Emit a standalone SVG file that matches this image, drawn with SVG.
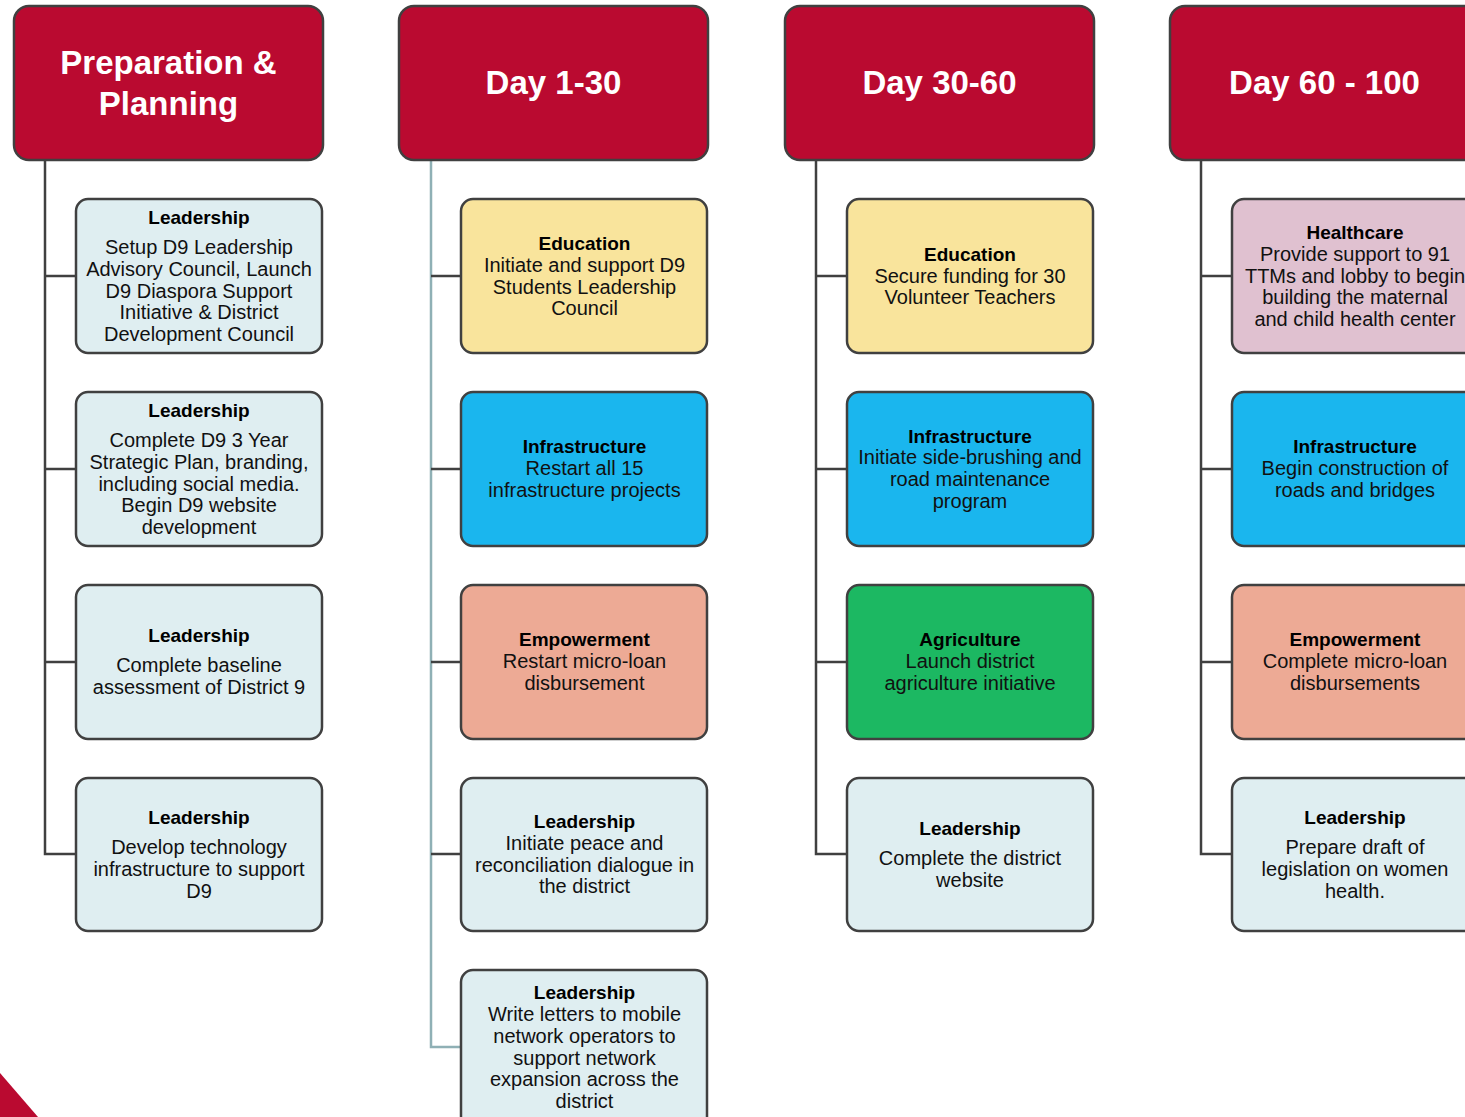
<svg xmlns="http://www.w3.org/2000/svg" width="1465" height="1117" viewBox="0 0 1465 1117">
<style>
.hdr{fill:#BA0A30;stroke:#404040;stroke-width:2.5}
.card{stroke:#404040;stroke-width:2.5}
.lead{fill:#DFEEF1}
.edu{fill:#F9E49C}
.infra{fill:#1AB6EE}
.emp{fill:#EDAA95}
.agr{fill:#1CB862}
.hc{fill:#E0C1D0}
.ht{font-family:"Liberation Sans",Arial,sans-serif;font-weight:bold;font-size:33px;fill:#FFFFFF;text-anchor:middle}
.tt{font-family:"Liberation Sans",Arial,sans-serif;font-weight:bold;font-size:19px;fill:#000;text-anchor:middle}
.bt{font-family:"Liberation Sans",Arial,sans-serif;font-size:20px;fill:#111;text-anchor:middle}
.ln{fill:none;stroke:#404040;stroke-width:2.5}
.ln2{fill:none;stroke:#8FB0B5;stroke-width:2.5}
</style>
<rect width="1465" height="1117" fill="#FFFFFF"/>
<polygon points="0,1073 38,1117 0,1117" fill="#BA0A30"/>
<g id="connectors">
<path class="ln" d="M45,160 V854 H76 M45,276 H76 M45,469 H76 M45,662 H76"/>
<path class="ln2" d="M431,160 V1047 H461"/>
<path class="ln" d="M431,276 H461 M431,469 H461 M431,662 H461 M431,854 H461"/>
<path class="ln" d="M816,160 V854 H847 M816,276 H847 M816,469 H847 M816,662 H847"/>
<path class="ln" d="M1201,160 V854 H1232 M1201,276 H1232 M1201,469 H1232 M1201,662 H1232"/>
</g>
<g id="h1"><rect class="hdr" x="14" y="6" width="309" height="154" rx="15"/><text class="ht" x="168.5" y="74">Preparation &amp;</text><text class="ht" x="168.5" y="115">Planning</text></g>
<g id="h2"><rect class="hdr" x="399" y="6" width="309" height="154" rx="15"/><text class="ht" x="553.5" y="94">Day 1-30</text></g>
<g id="h3"><rect class="hdr" x="785" y="6" width="309" height="154" rx="15"/><text class="ht" x="939.5" y="94">Day 30-60</text></g>
<g id="h4"><rect class="hdr" x="1170" y="6" width="309" height="154" rx="15"/><text class="ht" x="1324.5" y="94">Day 60 - 100</text></g>

<g id="c1r1"><rect class="card lead" x="76" y="199" width="246" height="154" rx="12"/>
<text class="tt" x="199" y="224">Leadership</text>
<text class="bt" x="199" y="254">Setup D9 Leadership</text>
<text class="bt" x="199" y="276">Advisory Council, Launch</text>
<text class="bt" x="199" y="298">D9 Diaspora Support</text>
<text class="bt" x="199" y="319">Initiative &amp; District</text>
<text class="bt" x="199" y="341">Development Council</text></g>
<g id="c1r2"><rect class="card lead" x="76" y="392" width="246" height="154" rx="12"/>
<text class="tt" x="199" y="417">Leadership</text>
<text class="bt" x="199" y="447">Complete D9 3 Year</text>
<text class="bt" x="199" y="469">Strategic Plan, branding,</text>
<text class="bt" x="199" y="491">including social media.</text>
<text class="bt" x="199" y="512">Begin D9 website</text>
<text class="bt" x="199" y="534">development</text></g>
<g id="c1r3"><rect class="card lead" x="76" y="585" width="246" height="154" rx="12"/>
<text class="tt" x="199" y="642">Leadership</text>
<text class="bt" x="199" y="672">Complete baseline</text>
<text class="bt" x="199" y="694">assessment of District 9</text></g>
<g id="c1r4"><rect class="card lead" x="76" y="778" width="246" height="153" rx="12"/>
<text class="tt" x="199" y="824">Leadership</text>
<text class="bt" x="199" y="854">Develop technology</text>
<text class="bt" x="199" y="876">infrastructure to support</text>
<text class="bt" x="199" y="898">D9</text></g>

<g id="c2r1"><rect class="card edu" x="461" y="199" width="246" height="154" rx="12"/>
<text class="tt" x="584.5" y="250">Education</text>
<text class="bt" x="584.5" y="272">Initiate and support D9</text>
<text class="bt" x="584.5" y="294">Students Leadership</text>
<text class="bt" x="584.5" y="315">Council</text></g>
<g id="c2r2"><rect class="card infra" x="461" y="392" width="246" height="154" rx="12"/>
<text class="tt" x="584.5" y="453">Infrastructure</text>
<text class="bt" x="584.5" y="475">Restart all 15</text>
<text class="bt" x="584.5" y="497">infrastructure projects</text></g>
<g id="c2r3"><rect class="card emp" x="461" y="585" width="246" height="154" rx="12"/>
<text class="tt" x="584.5" y="646">Empowerment</text>
<text class="bt" x="584.5" y="668">Restart micro-loan</text>
<text class="bt" x="584.5" y="690">disbursement</text></g>
<g id="c2r4"><rect class="card lead" x="461" y="778" width="246" height="153" rx="12"/>
<text class="tt" x="584.5" y="828">Leadership</text>
<text class="bt" x="584.5" y="850">Initiate peace and</text>
<text class="bt" x="584.5" y="872">reconciliation dialogue in</text>
<text class="bt" x="584.5" y="893">the district</text></g>
<g id="c2r5"><rect class="card lead" x="461" y="970" width="246" height="160" rx="12"/>
<text class="tt" x="584.5" y="999">Leadership</text>
<text class="bt" x="584.5" y="1021">Write letters to mobile</text>
<text class="bt" x="584.5" y="1043">network operators to</text>
<text class="bt" x="584.5" y="1065">support network</text>
<text class="bt" x="584.5" y="1086">expansion across the</text>
<text class="bt" x="584.5" y="1108">district</text></g>

<g id="c3r1"><rect class="card edu" x="847" y="199" width="246" height="154" rx="12"/>
<text class="tt" x="970" y="261">Education</text>
<text class="bt" x="970" y="283">Secure funding for 30</text>
<text class="bt" x="970" y="304">Volunteer Teachers</text></g>
<g id="c3r2"><rect class="card infra" x="847" y="392" width="246" height="154" rx="12"/>
<text class="tt" x="970" y="443">Infrastructure</text>
<text class="bt" x="970" y="464">Initiate side-brushing and</text>
<text class="bt" x="970" y="486">road maintenance</text>
<text class="bt" x="970" y="508">program</text></g>
<g id="c3r3"><rect class="card agr" x="847" y="585" width="246" height="154" rx="12"/>
<text class="tt" x="970" y="646">Agriculture</text>
<text class="bt" x="970" y="668">Launch district</text>
<text class="bt" x="970" y="690">agriculture initiative</text></g>
<g id="c3r4"><rect class="card lead" x="847" y="778" width="246" height="153" rx="12"/>
<text class="tt" x="970" y="835">Leadership</text>
<text class="bt" x="970" y="865">Complete the district</text>
<text class="bt" x="970" y="887">website</text></g>

<g id="c4r1"><rect class="card hc" x="1232" y="199" width="246" height="154" rx="12"/>
<text class="tt" x="1355" y="239">Healthcare</text>
<text class="bt" x="1355" y="261">Provide support to 91</text>
<text class="bt" x="1355" y="283">TTMs and lobby to begin</text>
<text class="bt" x="1355" y="304">building the maternal</text>
<text class="bt" x="1355" y="326">and child health center</text></g>
<g id="c4r2"><rect class="card infra" x="1232" y="392" width="246" height="154" rx="12"/>
<text class="tt" x="1355" y="453">Infrastructure</text>
<text class="bt" x="1355" y="475">Begin construction of</text>
<text class="bt" x="1355" y="497">roads and bridges</text></g>
<g id="c4r3"><rect class="card emp" x="1232" y="585" width="246" height="154" rx="12"/>
<text class="tt" x="1355" y="646">Empowerment</text>
<text class="bt" x="1355" y="668">Complete micro-loan</text>
<text class="bt" x="1355" y="690">disbursements</text></g>
<g id="c4r4"><rect class="card lead" x="1232" y="778" width="246" height="153" rx="12"/>
<text class="tt" x="1355" y="824">Leadership</text>
<text class="bt" x="1355" y="854">Prepare draft of</text>
<text class="bt" x="1355" y="876">legislation on women</text>
<text class="bt" x="1355" y="898">health.</text></g>
</svg>
